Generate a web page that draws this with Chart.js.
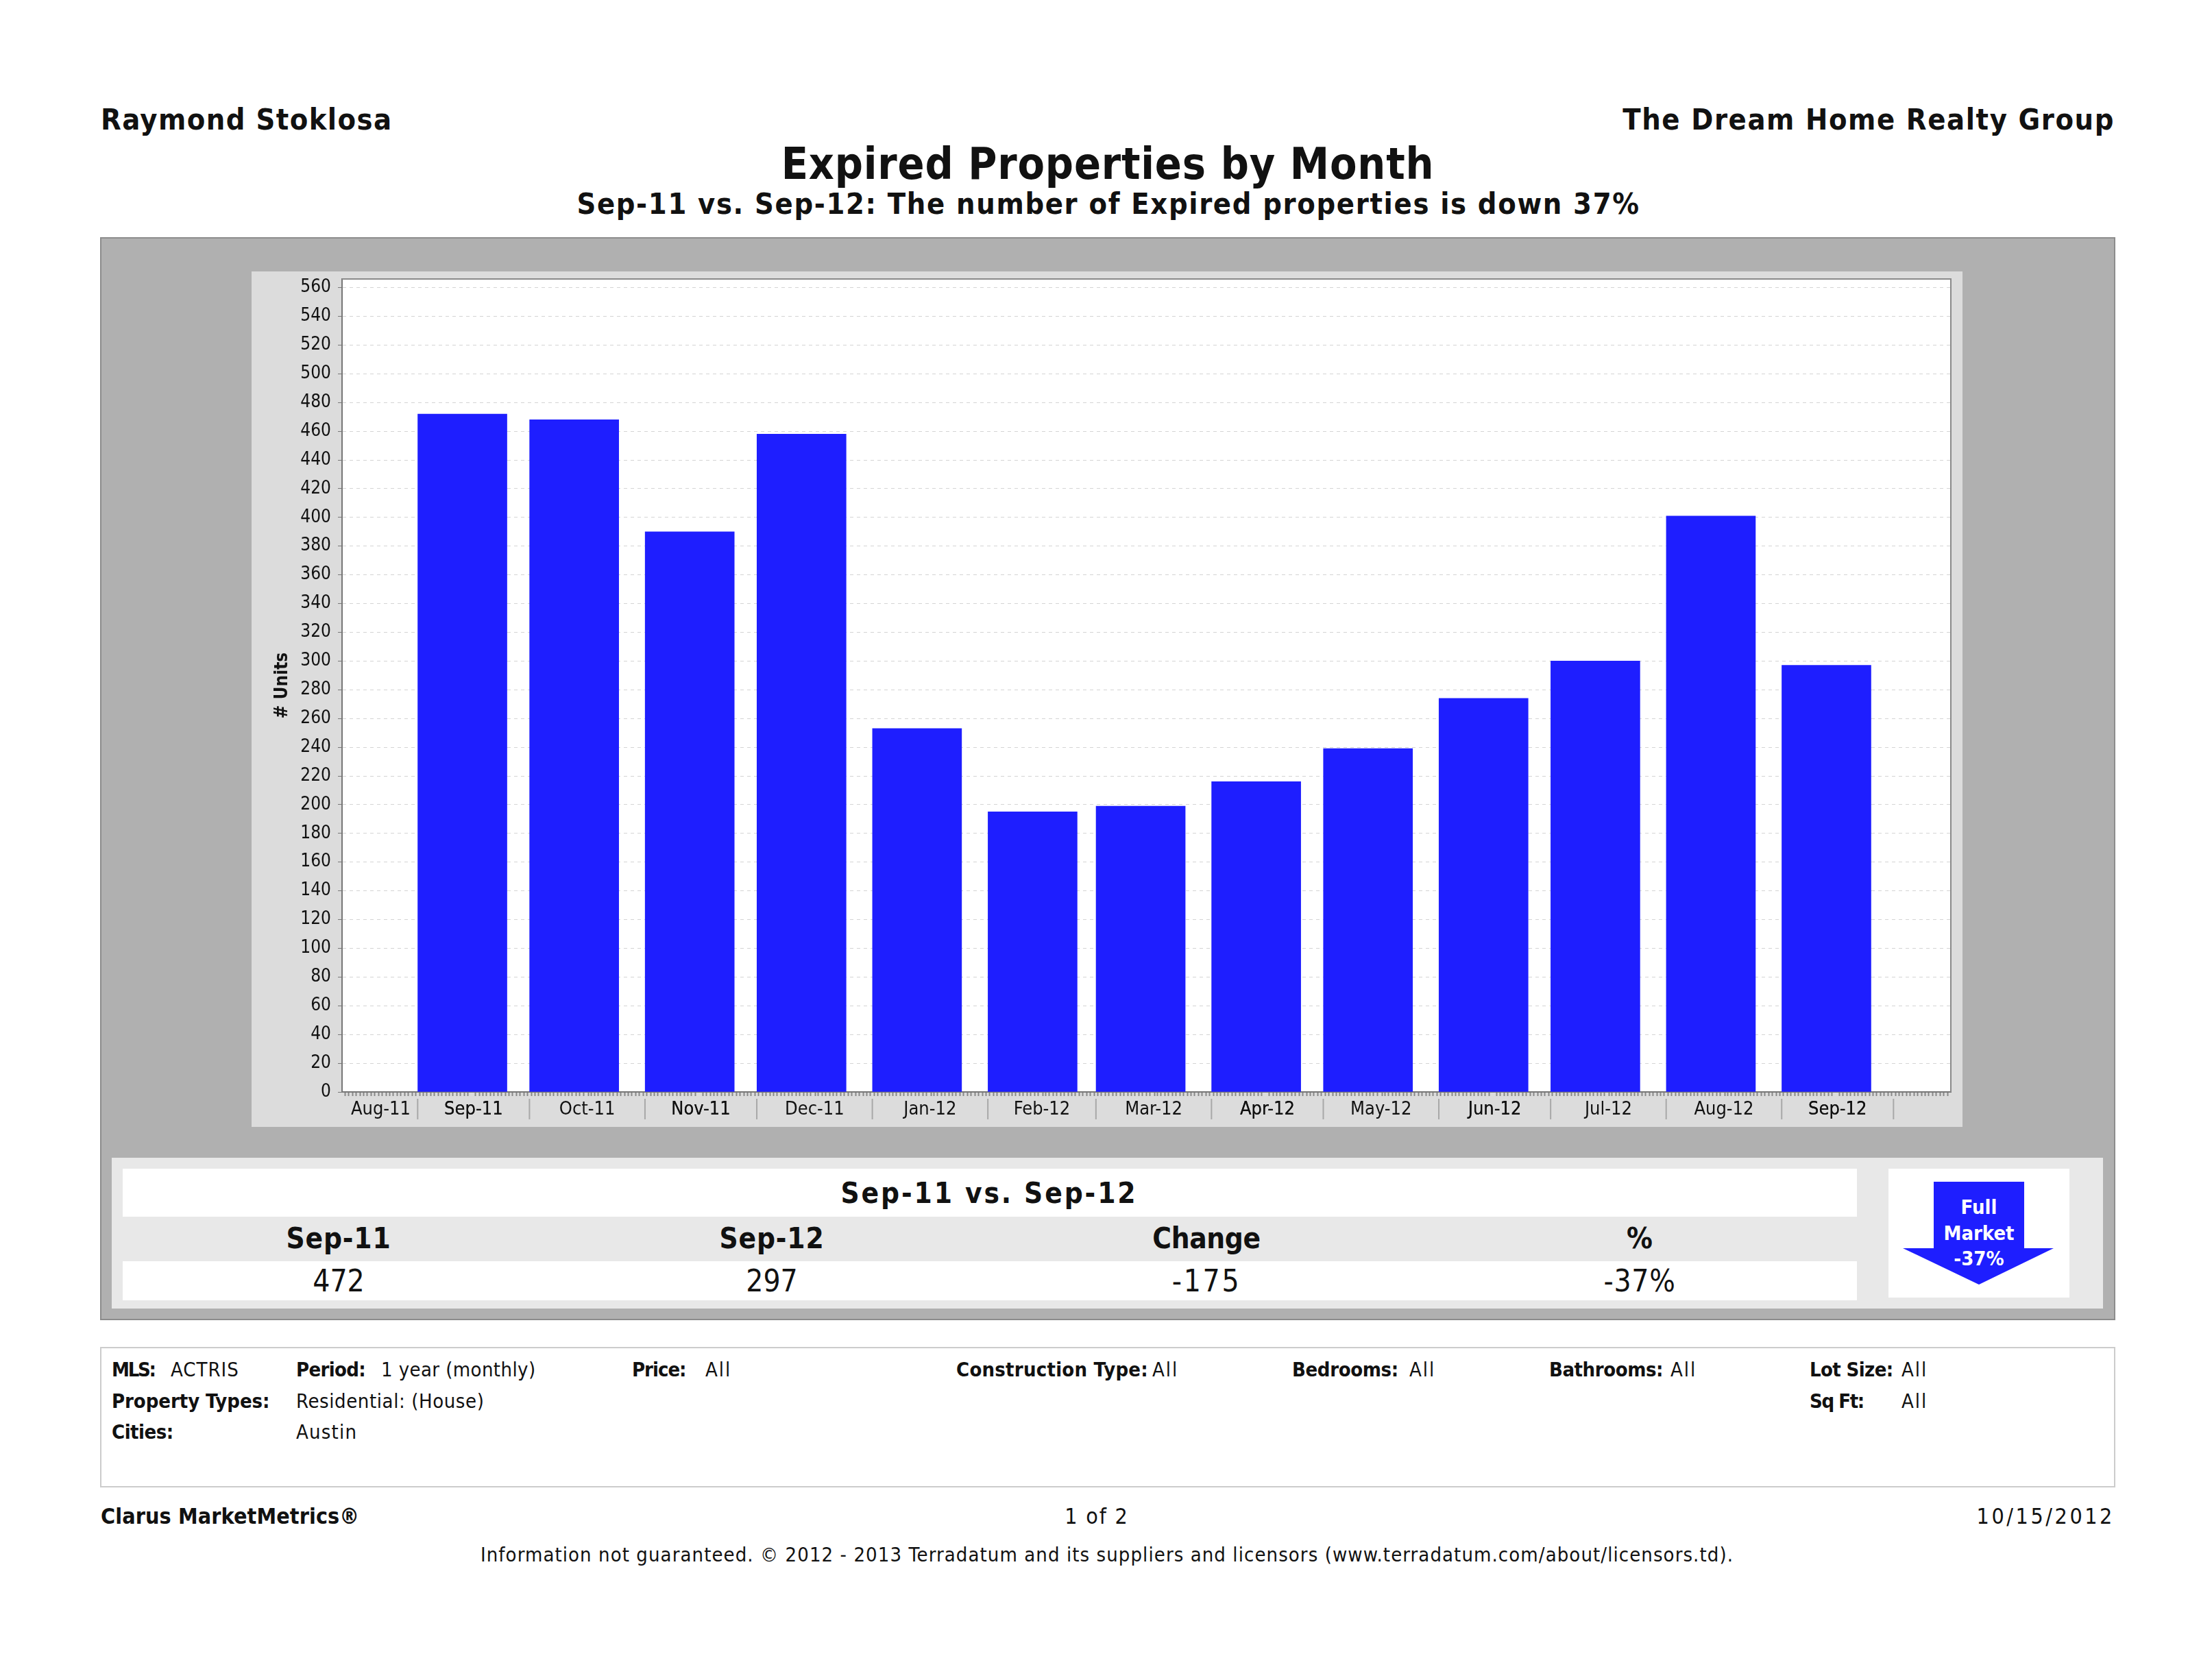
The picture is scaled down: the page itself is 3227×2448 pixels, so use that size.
<!DOCTYPE html>
<html>
<head>
<meta charset="utf-8">
<title>Expired Properties by Month</title>
<script src="https://cdn.jsdelivr.net/npm/chart.js@4"></script>
<style>
body { margin: 0; background: #fff; width: 3227px; height: 2448px; position: relative; overflow: hidden; color: #111; font-family: "DejaVu Sans Condensed", sans-serif; }
.box { position: absolute; box-sizing: border-box; }
.t { position: absolute; white-space: nowrap; transform: translateY(-50%); line-height: 1; }
.c { transform: translate(-50%, -50%); }
.head { font-weight: bold; font-size: 43px; }
.tbl { font-size: 44px; }
.tbl.b { font-size: 42px; }
.b { font-weight: bold; }
.foot { font-size: 29px; }
canvas { position: absolute; left: 367px; top: 396px; }
</style>
</head>
<body>
<div class="t head" style="left:147px;top:174px" data-w="424">Raymond Stoklosa</div>
<div class="t head" style="right:142px;top:174px" data-w="716">The Dream Home Realty Group</div>
<div class="t c b" style="left:1616px;top:239px;font-size:64px" data-w="952">Expired Properties by Month</div>
<div class="t c b" style="left:1617px;top:297px;font-size:43px" data-w="1550">Sep-11 vs. Sep-12: The number of Expired properties is down 37%</div>

<div class="box" style="left:146px;top:346px;width:2940px;height:1580px;background:#b0b0b0;border:2px solid #8c8c8c"></div>
<canvas id="expiredChart" width="2496" height="1248"></canvas>

<div class="box" style="left:163px;top:1689px;width:2905px;height:220px;background:#e8e8e8"></div>
<div class="box" style="left:179px;top:1705px;width:2530px;height:70px;background:#fff"></div>
<div class="box" style="left:179px;top:1840px;width:2530px;height:57px;background:#fff"></div>
<div class="box" style="left:2755px;top:1705px;width:264px;height:188px;background:#fff"></div>
<svg class="box" style="left:2755px;top:1705px" width="264" height="188">
  <polygon points="66,19 198,19 198,116 241,116 132,169 21,116 66,116" fill="#1e1eff"/>
  <g fill="#fff" font-family="DejaVu Sans Condensed" font-weight="bold" font-size="29" text-anchor="middle">
    <text x="132" y="66">Full</text>
    <text x="132" y="104">Market</text>
    <text x="132" y="141">-37%</text>
  </g>
</svg>
<div class="t tbl c b" style="left:1443px;top:1741px" data-w="430">Sep-11 vs. Sep-12</div>
<div class="t tbl c b" style="left:494px;top:1807px" data-w="152">Sep-11</div>
<div class="t tbl c b" style="left:1126px;top:1807px" data-w="152">Sep-12</div>
<div class="t tbl c b" style="left:1760px;top:1807px" data-w="158">Change</div>
<div class="t tbl c b" style="left:2392px;top:1807px">%</div>
<div class="t tbl c" style="left:494px;top:1869px" data-w="76">472</div>
<div class="t tbl c" style="left:1126px;top:1869px" data-w="76">297</div>
<div class="t tbl c" style="left:1760px;top:1869px" data-w="98">-175</div>
<div class="t tbl c" style="left:2392px;top:1869px" data-w="104">-37%</div>

<div class="box" style="left:146px;top:1965px;width:2940px;height:205px;border:2px solid #ccc"></div>
<div class="t foot b" style="left:163px;top:1998px" data-w="65">MLS:</div>
<div class="t foot" style="left:249px;top:1998px" data-w="99">ACTRIS</div>
<div class="t foot b" style="left:432px;top:1998px" data-w="102">Period:</div>
<div class="t foot" style="left:556px;top:1998px" data-w="225">1 year (monthly)</div>
<div class="t foot b" style="left:922px;top:1998px" data-w="80">Price:</div>
<div class="t foot" style="left:1029px;top:1998px" data-w="36">All</div>
<div class="t foot b" style="left:1395px;top:1998px" data-w="280">Construction Type:</div>
<div class="t foot" style="left:1681px;top:1998px" data-w="36">All</div>
<div class="t foot b" style="left:1885px;top:1998px" data-w="155">Bedrooms:</div>
<div class="t foot" style="left:2056px;top:1998px" data-w="36">All</div>
<div class="t foot b" style="left:2260px;top:1998px" data-w="166">Bathrooms:</div>
<div class="t foot" style="left:2437px;top:1998px" data-w="36">All</div>
<div class="t foot b" style="left:2640px;top:1998px" data-w="122">Lot Size:</div>
<div class="t foot" style="left:2774px;top:1998px" data-w="36">All</div>
<div class="t foot b" style="left:163px;top:2044px" data-w="230">Property Types:</div>
<div class="t foot" style="left:432px;top:2044px" data-w="274">Residential: (House)</div>
<div class="t foot b" style="left:2640px;top:2044px" data-w="80">Sq Ft:</div>
<div class="t foot" style="left:2774px;top:2044px" data-w="36">All</div>
<div class="t foot b" style="left:163px;top:2089px" data-w="90">Cities:</div>
<div class="t foot" style="left:432px;top:2089px" data-w="88">Austin</div>

<div class="t foot b" style="left:147px;top:2212px;font-size:32px" data-w="377">Clarus MarketMetrics®</div>
<div class="t foot c" style="left:1600px;top:2212px;font-size:32px" data-w="92">1 of 2</div>
<div class="t foot" style="right:142px;top:2212px;font-size:32px" data-w="198">10/15/2012</div>
<div class="t foot c" style="left:1615px;top:2268px" data-w="1828">Information not guaranteed.  © 2012 - 2013 Terradatum and its suppliers and licensors (www.terradatum.com/about/licensors.td).</div>

<script>
// months on the axis, day numbers counted from 1 Aug 2011
const monthLabels = ['Aug-11', 'Sep-11', 'Oct-11', 'Nov-11', 'Dec-11', 'Jan-12', 'Feb-12', 'Mar-12', 'Apr-12', 'May-12', 'Jun-12', 'Jul-12', 'Aug-12', 'Sep-12'];
const monthStarts = [31, 61, 92, 122, 153, 184, 213, 244, 274, 305, 335, 366, 397, 427];
const barMonths = monthStarts.slice(0, 13);
const expiredUnits = [472, 468, 390, 458, 253, 195, 199, 216, 239, 274, 300, 401, 297];

const dayMin = 11.2;
const dayMax = 441.9;
const barOffset = 12;

// stretch every text to the width it has in the report
document.querySelectorAll('[data-w]').forEach(el => {
    const extra = el.dataset.w - el.offsetWidth;
    el.style.letterSpacing = (extra / (el.textContent.length - 1)) + 'px';
});

// label ticks sit half way between the month separators
const labelDays = monthLabels.map((m, i) => ((i === 0 ? dayMin : monthStarts[i - 1]) + monthStarts[i]) / 2);

const plotFrame = {
    id: 'plotFrame',
    beforeDraw(chart) {
        const { ctx, chartArea: a } = chart;
        ctx.fillStyle = '#dcdcdc';
        ctx.fillRect(0, 0, chart.width, chart.height);
        ctx.fillStyle = '#fff';
        ctx.fillRect(a.left, a.top, a.right - a.left, a.bottom - a.top);
    },
    afterDraw(chart) {
        const { ctx, chartArea: a, scales } = chart;
        ctx.strokeStyle = '#8a8a8a';
        ctx.lineWidth = 2;
        ctx.beginPath();
        ctx.moveTo(a.left, a.top);
        ctx.lineTo(a.right, a.top);
        ctx.lineTo(a.right, a.bottom);
        ctx.stroke();
        // month separators under the axis
        ctx.strokeStyle = '#a8a8a8';
        monthStarts.forEach(d => {
            const x = scales.x.getPixelForValue(d);
            ctx.beginPath();
            ctx.moveTo(x, a.bottom + 10);
            ctx.lineTo(x, a.bottom + 40);
            ctx.stroke();
        });
    }
};

const tickFamily = '"DejaVu Sans Condensed", sans-serif';

new Chart(document.getElementById('expiredChart'), {
    type: 'bar',
    data: {
        datasets: [{
            label: 'Expired',
            data: barMonths.map((d, i) => ({ x: d + barOffset, y: expiredUnits[i] })),
            backgroundColor: '#1e1eff',
            barThickness: 130,
        }]
    },
    plugins: [plotFrame],
    options: {
        responsive: false,
        animation: false,
        layout: { padding: { top: 11, right: 17, left: 0, bottom: 0 } },
        plugins: { legend: { display: false }, tooltip: { enabled: false } },
        scales: {
            x: {
                type: 'linear',
                min: dayMin,
                max: dayMax,
                afterBuildTicks(scale) {
                    const ticks = labelDays.map(d => ({ value: d }));
                    for (let d = Math.ceil(dayMin); d <= dayMax; d++) ticks.push({ value: d });
                    scale.ticks = ticks.sort((a, b) => a.value - b.value);
                },
                afterFit(scale) {
                    scale.height = 51;
                    scale.paddingLeft = 0;
                    scale.paddingRight = 0;
                },
                grid: {
                    drawOnChartArea: false,
                    tickLength: 6,
                    tickWidth: 2,
                    tickColor: c => (c.tick && labelDays.includes(c.tick.value) ? 'transparent' : '#888'),
                },
                border: { color: '#777', width: 2 },
                ticks: {
                    autoSkip: false,
                    maxRotation: 0,
                    includeBounds: false,
                    padding: 4,
                    color: '#111',
                    font: { family: tickFamily, size: 27 },
                    callback: v => {
                        const i = labelDays.indexOf(v);
                        return i < 0 ? '' : monthLabels[i];
                    },
                },
            },
            y: {
                min: 0,
                max: 566,
                afterFit(scale) {
                    scale.width = 132;
                    scale.paddingTop = 0;
                    scale.paddingBottom = 0;
                },
                grid: { color: '#d4d4d4', tickColor: '#777', tickLength: 6, tickBorderDash: [] },
                border: { color: '#777', width: 2, dash: [5, 5] },
                title: {
                    display: true,
                    text: '# Units',
                    color: '#111',
                    font: { family: tickFamily, size: 26, weight: 'bold' },
                    padding: { top: 30, bottom: 0 },
                },
                ticks: { autoSkip: false, includeBounds: false, stepSize: 20, padding: 10, color: '#111', font: { family: tickFamily, size: 26 } },
            },
        },
    },
});
</script>
</body>
</html>
